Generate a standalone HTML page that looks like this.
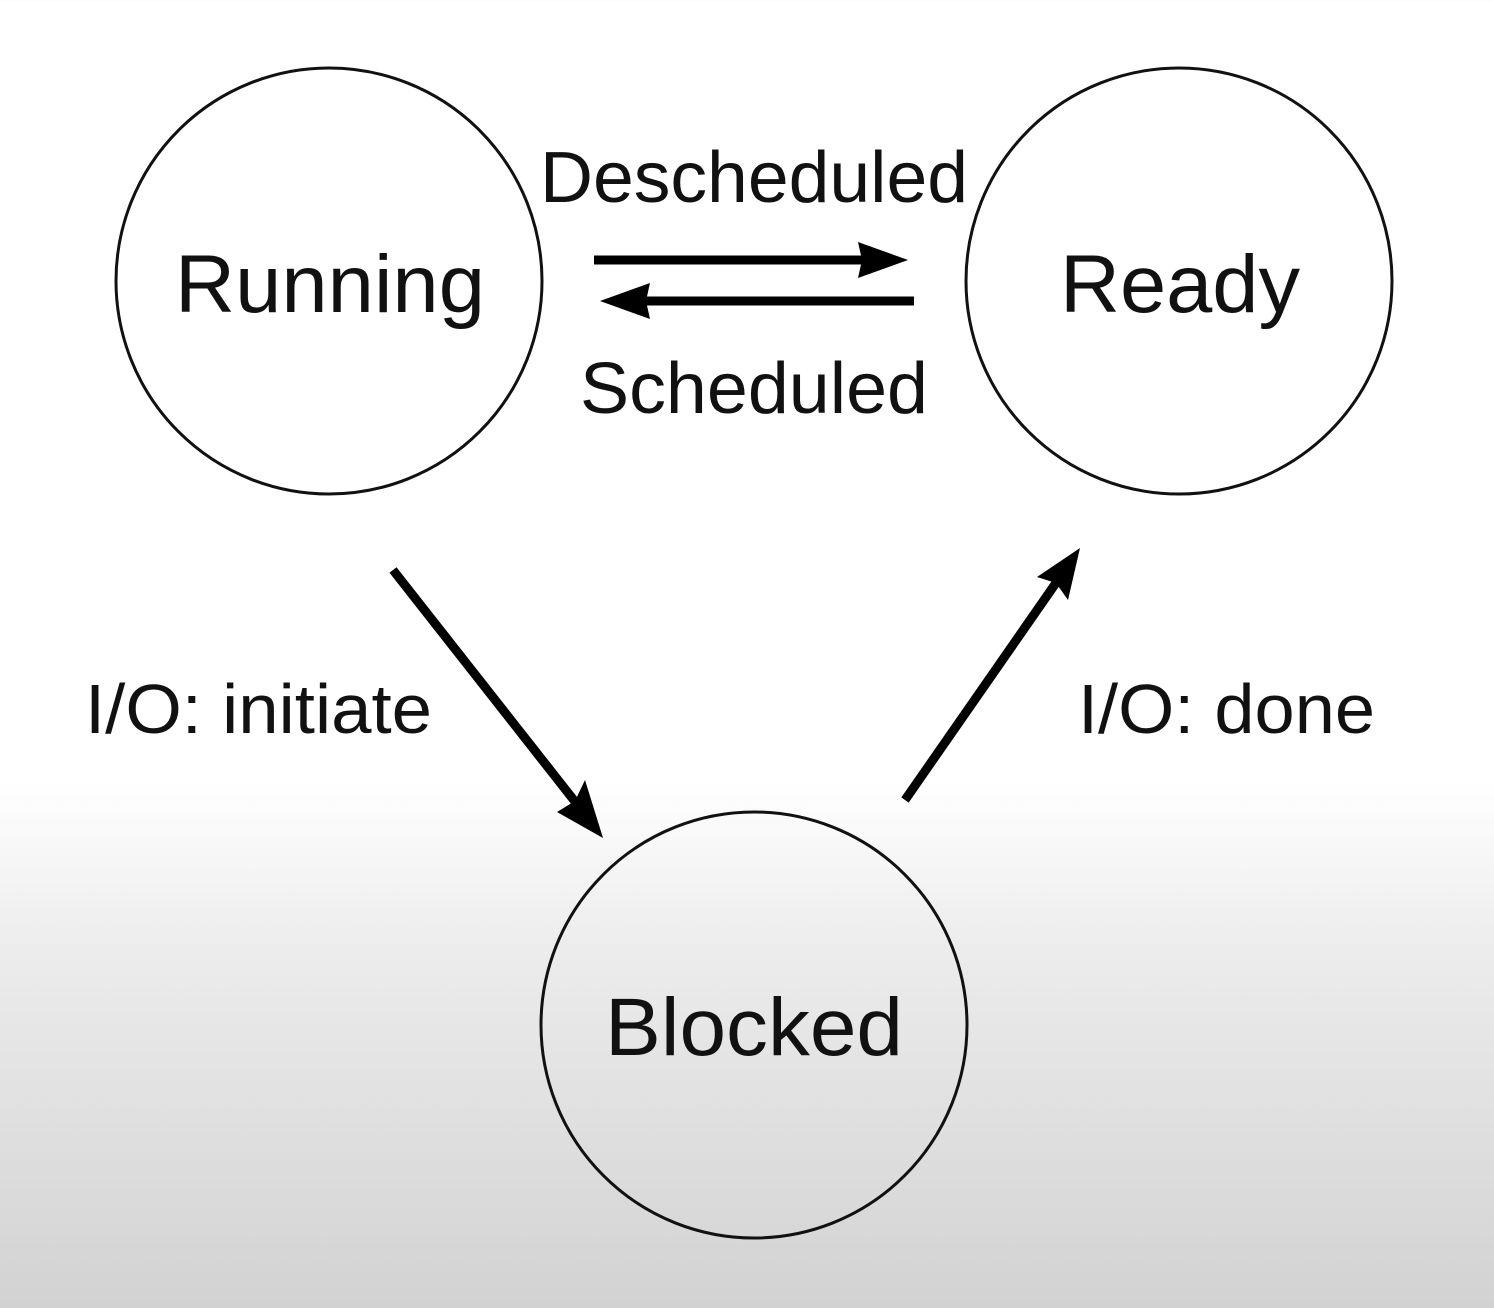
<!DOCTYPE html>
<html><head><style>
html,body{margin:0;padding:0;}
body{width:1494px;height:1308px;background:linear-gradient(to bottom,#fff 0px,#fff 780px,#ececec 950px,#d2d2d2 1308px);overflow:hidden;}
svg text{font-family:"Liberation Sans",sans-serif;fill:#111;}
</style></head><body>
<svg width="1494" height="1308" viewBox="0 0 1494 1308">
<g fill="none" stroke="#111" stroke-width="3">
<circle cx="329" cy="281" r="213"/>
<circle cx="1179" cy="281" r="213"/>
<circle cx="754" cy="1025" r="213"/>
</g>
<g stroke="#000" stroke-width="9" fill="#000">
<line x1="594" y1="260" x2="870" y2="260"/>
<polygon points="908,260 858,242 862,260 858,278" stroke="none"/>
<line x1="914" y1="301" x2="640" y2="301"/>
<polygon points="600,301 650,283 646,301 650,319" stroke="none"/>
<line x1="393" y1="570" x2="580" y2="808"/>
<polygon points="603,838 557,812 575,801 585,780" stroke="none"/>
<line x1="905" y1="800" x2="1058" y2="580"/>
<polygon points="1080,548 1068,600 1056,583 1037,577" stroke="none"/>
</g>
<g lengthAdjust="spacingAndGlyphs">
<text x="175" y="312" font-size="82" textLength="310" lengthAdjust="spacingAndGlyphs">Running</text>
<text x="1060" y="312" font-size="82" textLength="240" lengthAdjust="spacingAndGlyphs">Ready</text>
<text x="605" y="1055" font-size="82" textLength="298" lengthAdjust="spacingAndGlyphs">Blocked</text>
<text x="540" y="202" font-size="72" textLength="428" lengthAdjust="spacingAndGlyphs">Descheduled</text>
<text x="580" y="413" font-size="72" textLength="348" lengthAdjust="spacingAndGlyphs">Scheduled</text>
<text x="85" y="733" font-size="70" textLength="347" lengthAdjust="spacingAndGlyphs">I/O: initiate</text>
<text x="1078" y="733" font-size="70" textLength="297" lengthAdjust="spacingAndGlyphs">I/O: done</text>
</g>
</svg>
</body></html>
